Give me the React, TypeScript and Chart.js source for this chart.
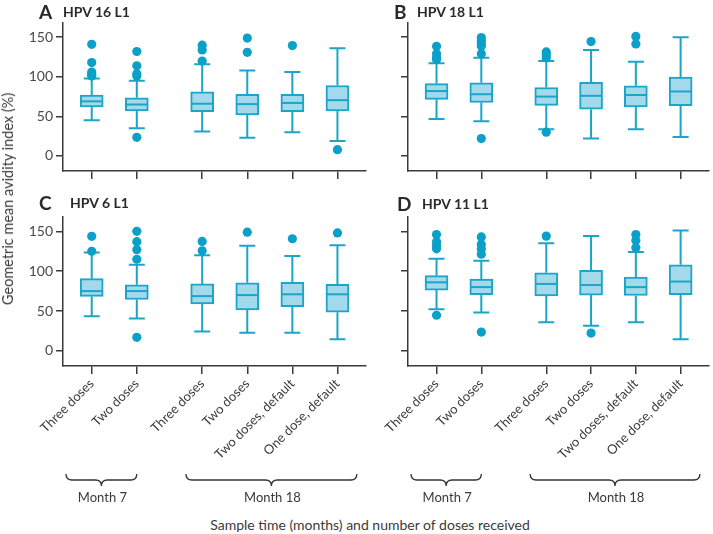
import React, { useEffect, useRef } from "react";
import { Chart, registerables } from "chart.js";

Chart.register(...registerables);

// ---- data ----
const positions = [1, 2, 3.45, 4.45, 5.45, 6.45];
const doseLabels = ["Three doses", "Two doses", "Three doses", "Two doses", "Two doses, default", "One dose, default"];
const groupNames = ["Month 7", "Month 18"];
const braceFrom = [0.43, 3.09];
const braceTo = [2.0, 6.88];
const yTicks = [0, 50, 100, 150];

// [lower whisker, Q1, median, Q3, upper whisker]
const hpv16Boxes = [
  [45, 62, 69, 77, 98],
  [35, 57, 65, 73.5, 95],
  [31, 56, 66, 81, 116],
  [23, 52, 65.5, 78, 108],
  [30, 56, 67, 78, 106],
  [19, 57, 70.5, 89, 136],
];
const hpv16Outliers = [
  [141, 118, 106, 103, 101],
  [132, 114, 104, 101, 23.5],
  [140, 134, 120],
  [149, 131],
  [139.5],
  [8],
];

const hpv18Boxes = [
  [46.6, 71.5, 82, 91.5, 117],
  [44, 67.6, 78, 92.4, 124],
  [33.6, 64, 75, 86.5, 120],
  [22, 59, 76, 93, 134],
  [33.6, 62, 77, 88.7, 119],
  [24, 63.4, 81.5, 99.6, 150],
];
const hpv18Outliers = [
  [138.6, 129, 124, 122],
  [149.6, 146, 142, 139, 129, 22],
  [131.5, 128, 124, 30],
  [144.5],
  [151, 141.6],
  [],
];

const hpv6Boxes = [
  [43.4, 68.3, 75, 90.6, 123.5],
  [40.5, 64.5, 75, 83, 108],
  [24.4, 59, 68.7, 84, 120],
  [22.8, 51.4, 70, 85.5, 132],
  [22.8, 55.6, 71, 86, 119],
  [14.7, 48.5, 71, 83.4, 132.7],
];
const hpv6Outliers = [
  [143.7, 125],
  [150, 137, 127, 115, 17],
  [137.4, 125.6],
  [149],
  [140.7],
  [148],
];

const hpv11Boxes = [
  [52.3, 76.3, 86, 94.4, 115.5],
  [48, 70.4, 80, 90, 113],
  [35.8, 69, 84, 98, 135],
  [31.6, 70, 82.6, 101, 144],
  [35.8, 69.5, 80, 92.7, 124],
  [14.7, 70.4, 87, 108, 151],
];
const hpv11Outliers = [
  [146, 137, 132, 128, 44.7],
  [143, 133.6, 127.7, 121.4, 23.6],
  [144],
  [22.3],
  [146, 138.6, 129.4],
  [],
];

// ---- styles ----
const FONT = "Lato, 'Noto Sans', sans-serif";
const STROKE = "#1ba5c9";
const FILL = "#a3d9ea";
const DOT = "#0aa0c8";
const AXIS = "#3a3a3a";
const TEXT = "#3a3a3a";

type PanelProps = {
  boxes: number[][];
  outliers: number[][];
  showLabels: boolean;
  showYLabels: boolean;
  left: number;
  top: number;
  width: number;
  height: number;
  padTop: number;
  padRight: number;
  yWidth: number;
  xHeight: number;
};

function Panel(p: PanelProps) {
  const ref = useRef<HTMLCanvasElement>(null);
  useEffect(() => {
    if (!ref.current) return;
    const boxData = positions.map((x, i) => ({ x, y: [p.boxes[i][1], p.boxes[i][3]] }));
    const outData: { x: number; y: number }[] = [];
    p.outliers.forEach((vals, i) => vals.forEach((v) => outData.push({ x: positions[i], y: v })));

    const boxPlugin = {
      id: "boxWhiskers",
      beforeDatasetsDraw(chart: any) {
        const { ctx, scales } = chart;
        const xs = scales.x;
        const ys = scales.y;
        ctx.save();
        ctx.strokeStyle = STROKE;
        ctx.lineWidth = 2;
        const cap = 8;
        p.boxes.forEach((b, i) => {
          const px = xs.getPixelForValue(positions[i]);
          const lo = ys.getPixelForValue(b[0]);
          const q1 = ys.getPixelForValue(b[1]);
          const q3 = ys.getPixelForValue(b[3]);
          const hi = ys.getPixelForValue(b[4]);
          ctx.beginPath();
          ctx.moveTo(px, q1);
          ctx.lineTo(px, lo);
          ctx.moveTo(px - cap, lo);
          ctx.lineTo(px + cap, lo);
          ctx.moveTo(px, q3);
          ctx.lineTo(px, hi);
          ctx.moveTo(px - cap, hi);
          ctx.lineTo(px + cap, hi);
          ctx.stroke();
        });
        ctx.restore();
      },
      afterDatasetsDraw(chart: any) {
        const { ctx, scales } = chart;
        const xs = scales.x;
        const ys = scales.y;
        ctx.save();
        ctx.strokeStyle = STROKE;
        ctx.lineWidth = 2;
        p.boxes.forEach((b, i) => {
          const px = xs.getPixelForValue(positions[i]);
          const md = ys.getPixelForValue(b[2]);
          ctx.beginPath();
          ctx.moveTo(px - 11, md);
          ctx.lineTo(px + 11, md);
          ctx.stroke();
        });
        ctx.restore();
      },
      afterDraw(chart: any) {
        if (!p.showLabels) return;
        const { ctx, scales, chartArea } = chart;
        const xs = scales.x;
        const base = chartArea.bottom;
        ctx.save();
        ctx.strokeStyle = "#333";
        ctx.lineWidth = 1.3;
        groupNames.forEach((name, g) => {
          const x1 = xs.getPixelForValue(braceFrom[g]);
          const x2 = xs.getPixelForValue(braceTo[g]);
          const xc = (x1 + x2) / 2;
          const yTop = base + 108;
          const yMid = base + 114;
          const yTip = base + 120;
          const r = 6;
          ctx.beginPath();
          ctx.moveTo(x1, yTop);
          ctx.quadraticCurveTo(x1, yMid, x1 + r, yMid);
          ctx.lineTo(xc - r, yMid);
          ctx.quadraticCurveTo(xc, yMid, xc, yTip);
          ctx.quadraticCurveTo(xc, yMid, xc + r, yMid);
          ctx.lineTo(x2 - r, yMid);
          ctx.quadraticCurveTo(x2, yMid, x2, yTop);
          ctx.stroke();
          ctx.fillStyle = TEXT;
          ctx.font = `13px ${FONT}`;
          ctx.textAlign = "center";
          ctx.textBaseline = "middle";
          ctx.fillText(name, xc + 1, base + 132);
        });
        ctx.restore();
      },
    };

    const chart = new Chart(ref.current, {
      type: "bar",
      data: {
        datasets: [
          {
            type: "bar",
            data: boxData as any,
            backgroundColor: FILL,
            borderColor: STROKE,
            borderWidth: 2,
            borderSkipped: false,
            barThickness: 23,
          } as any,
          {
            type: "scatter",
            data: outData as any,
            pointRadius: 4.6,
            pointHoverRadius: 4.6,
            backgroundColor: DOT,
            borderWidth: 0,
          } as any,
        ],
      },
      options: {
        animation: false,
        responsive: false,
        devicePixelRatio: 1,
        layout: { padding: { top: p.padTop, right: p.padRight, left: 0, bottom: 0 } },
        plugins: { legend: { display: false }, tooltip: { enabled: false }, title: { display: false } },
        scales: {
          x: {
            type: "linear",
            min: 0.363,
            max: 7.07,
            offset: false,
            grid: {
              display: true,
              offset: false,
              drawOnChartArea: false,
              drawTicks: true,
              tickLength: 8,
              color: AXIS,
              lineWidth: 1.5,
            },
            border: { display: true, color: AXIS, width: 1.5 },
            ticks: {
              display: p.showLabels,
              autoSkip: false,
              minRotation: 45,
              maxRotation: 45,
              padding: 2,
              color: TEXT,
              font: { family: FONT, size: 13 },
              callback: (_v: any, i: number) => doseLabels[i],
            },
            afterBuildTicks: (s: any) => {
              s.ticks = positions.map((v) => ({ value: v }));
            },
            afterFit: (s: any) => {
              s.height = p.xHeight;
            },
          } as any,
          y: {
            type: "linear",
            min: -19,
            max: 168,
            grid: {
              display: true,
              drawOnChartArea: false,
              drawTicks: true,
              tickLength: 7,
              color: AXIS,
              lineWidth: 1.5,
            },
            border: { display: true, color: AXIS, width: 1.5 },
            ticks: {
              display: p.showYLabels,
              padding: 3,
              color: "#4a4a4a",
              font: { family: FONT, size: 14 },
            },
            afterBuildTicks: (s: any) => {
              s.ticks = yTicks.map((v) => ({ value: v }));
            },
            afterFit: (s: any) => {
              s.width = p.yWidth;
              s.paddingTop = 0;
              s.paddingBottom = 0;
            },
          } as any,
        },
      },
      plugins: [boxPlugin as any],
    });
    return () => chart.destroy();
  }, []);

  return (
    <canvas
      ref={ref}
      width={p.width}
      height={p.height}
      style={{ position: "absolute", left: p.left, top: p.top, width: p.width, height: p.height }}
    />
  );
}

function Title({ letter, title, x, y, titleX }: { letter: string; title: string; x: number; y: number; titleX: number }) {
  return (
    <>
      <div
        style={{
          position: "absolute",
          left: x,
          top: y - 11,
          fontFamily: FONT,
          fontWeight: 700,
          fontSize: 19,
          lineHeight: "22px",
          color: "#2a2a2a",
        }}
      >
        {letter}
      </div>
      <div
        style={{
          position: "absolute",
          left: titleX,
          top: y - 9,
          fontFamily: FONT,
          fontWeight: 700,
          fontSize: 14,
          lineHeight: "18px",
          color: "#2a2a2a",
          whiteSpace: "nowrap",
        }}
      >
        {title}
      </div>
    </>
  );
}

export default function App() {
  return (
    <div style={{ position: "absolute", left: 0, top: 0, width: 713, height: 534, background: "#fff", overflow: "hidden" }}>
      <Panel
        boxes={hpv16Boxes} outliers={hpv16Outliers}
        showLabels={false} showYLabels={true}
        left={0} top={0} width={370} height={180} padTop={23} padRight={2} yWidth={63} xHeight={9}
      />
      <Panel
        boxes={hpv18Boxes} outliers={hpv18Outliers}
        showLabels={false} showYLabels={false}
        left={370} top={0} width={343} height={180} padTop={23} padRight={0} yWidth={38} xHeight={9}
      />
      <Panel
        boxes={hpv6Boxes} outliers={hpv6Outliers}
        showLabels={true} showYLabels={true}
        left={0} top={200} width={370} height={310} padTop={17} padRight={2} yWidth={63} xHeight={144}
      />
      <Panel
        boxes={hpv11Boxes} outliers={hpv11Outliers}
        showLabels={true} showYLabels={false}
        left={370} top={200} width={343} height={310} padTop={17} padRight={0} yWidth={38} xHeight={144}
      />
      <Title letter="A" title="HPV 16 L1" x={39} y={12} titleX={63} />
      <Title letter="B" title="HPV 18 L1" x={394} y={12} titleX={417} />
      <Title letter="C" title="HPV 6 L1" x={39} y={203} titleX={70} />
      <Title letter="D" title="HPV 11 L1" x={397} y={204} titleX={422} />
      <div
        style={{
          position: "absolute",
          left: 8,
          top: 199,
          transform: "translate(-50%, -50%) rotate(-90deg)",
          fontFamily: FONT,
          fontSize: 14.5,
          color: TEXT,
          whiteSpace: "nowrap",
          lineHeight: "16px",
        }}
      >
        Geometric mean avidity index (%)
      </div>
      <div
        style={{
          position: "absolute",
          left: 370,
          top: 525,
          transform: "translate(-50%, -50%)",
          fontFamily: FONT,
          fontSize: 14,
          color: TEXT,
          whiteSpace: "nowrap",
          lineHeight: "16px",
        }}
      >
        Sample time (months) and number of doses received
      </div>
    </div>
  );
}
